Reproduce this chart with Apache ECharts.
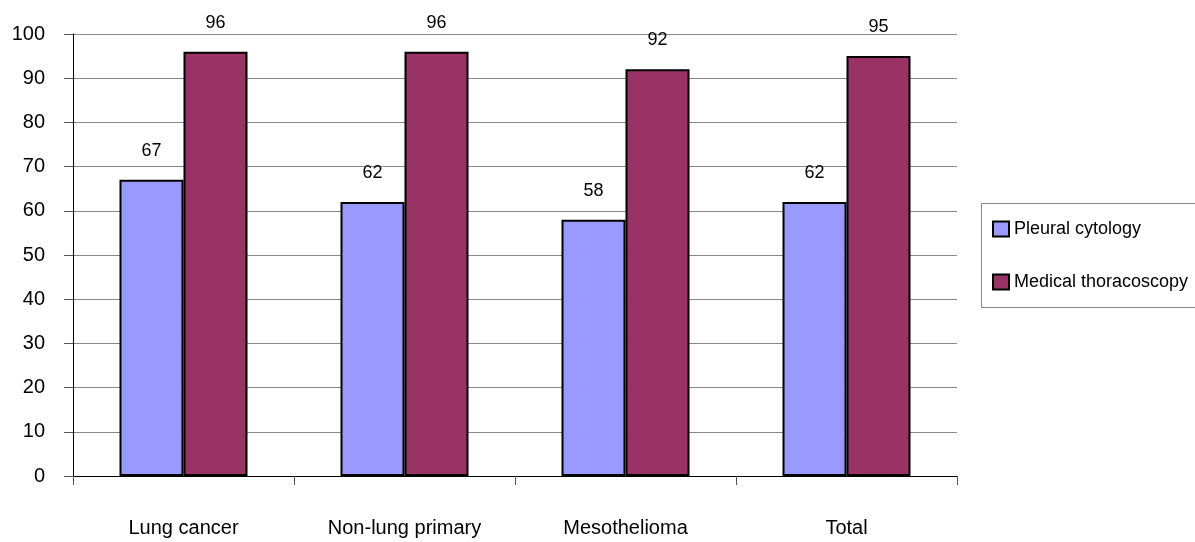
<!DOCTYPE html>
<html>
<head>
<meta charset="utf-8">
<script src="https://cdn.jsdelivr.net/npm/echarts@6/dist/echarts.min.js"></script>
<style>
html,body{margin:0;padding:0;background:#fff;}
#chart{width:1195px;height:542px;}
</style>
</head>
<body>
<div id="chart"></div>
<script>
const categories = ['Lung cancer', 'Non-lung primary', 'Mesothelioma', 'Total'];
const pleuralCytology = [67, 62, 58, 62];
const medicalThoracoscopy = [96, 96, 92, 95];
const seriesNames = ['Pleural cytology', 'Medical thoracoscopy'];

const chart = echarts.init(document.getElementById('chart'));
const font = 'Liberation Sans, Arial, sans-serif';
const labelStyle = {
  show: true, position: 'top', distance: 20,
  color: '#000', fontSize: 18, fontFamily: font
};
chart.setOption({
  animation: false,
  backgroundColor: '#fff',
  textStyle: { fontFamily: font },
  grid: { left: 73, right: 238, top: 34, bottom: 66, containLabel: false },
  graphic: [{
    type: 'rect', left: 981, top: 203, z: 0, silent: true,
    shape: { width: 240, height: 104 },
    style: { fill: '#fff', stroke: '#888', lineWidth: 1 }
  }],
  legend: {
    orient: 'vertical',
    left: 981, top: 203,
    padding: [17, 2, 15, 11],
    itemGap: 35,
    itemWidth: 16, itemHeight: 15,
    borderWidth: 0,
    textStyle: { color: '#000', fontSize: 18, fontFamily: font },
    data: seriesNames.map(n => ({ name: n, icon: 'rect' }))
  },
  xAxis: {
    type: 'category',
    data: categories,
    axisLine: { lineStyle: { color: '#000', width: 1 } },
    axisTick: { show: true, length: 9, lineStyle: { color: '#555' } },
    axisLabel: { color: '#000', fontSize: 20, margin: 42, fontFamily: font },
    splitLine: { show: false }
  },
  yAxis: {
    type: 'value',
    min: 0, max: 100, interval: 10,
    axisLine: { show: true, lineStyle: { color: '#000', width: 1 } },
    axisTick: { show: true, length: 9, lineStyle: { color: '#555' } },
    axisLabel: { color: '#000', fontSize: 20, margin: 28, fontFamily: font },
    splitLine: { show: true, lineStyle: { color: '#888', width: 1 } }
  },
  series: [
    {
      name: seriesNames[0], type: 'bar', data: pleuralCytology,
      barWidth: 64, barGap: '0%',
      itemStyle: { color: '#9999FF', borderColor: '#000', borderWidth: 2 },
      label: labelStyle
    },
    {
      name: seriesNames[1], type: 'bar', data: medicalThoracoscopy,
      barWidth: 64, barGap: '0%',
      itemStyle: { color: '#993366', borderColor: '#000', borderWidth: 2 },
      label: labelStyle
    }
  ]
});
</script>
</body>
</html>
